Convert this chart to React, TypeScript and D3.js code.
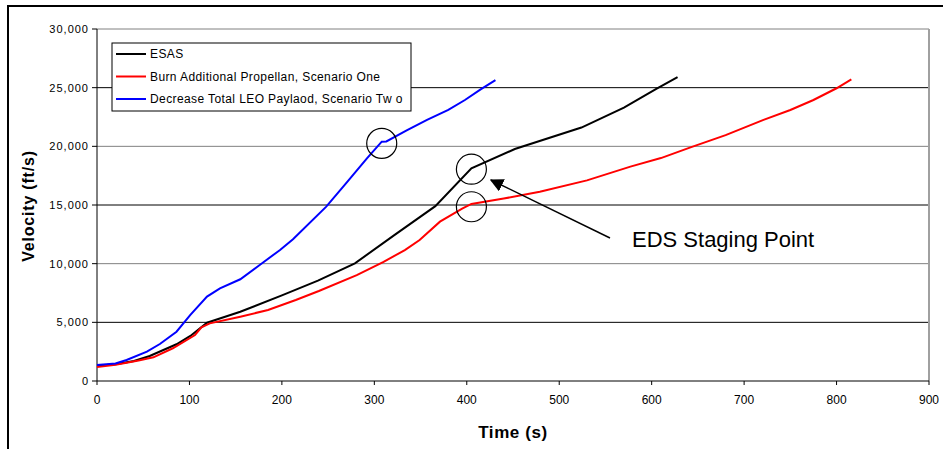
import * as d3 from "d3";

// time (s) / velocity (ft/s)
const esasT = [0, 20, 40, 57, 86, 101, 119, 155, 200, 239, 279, 322, 366, 405, 452, 524, 570, 605, 628];
const esasV = [1300, 1420, 1700, 2130, 3130, 3840, 4970, 5900, 7300, 8550, 10030, 12450, 14900, 18120, 19770, 21600, 23300, 24900, 25900];

const burnT = [0, 20, 32, 45, 61, 82, 106, 113, 122, 155, 185, 215, 240, 281, 310, 333, 349, 371, 395, 405, 440, 479, 530, 577, 610, 642, 680, 721, 750, 775, 800, 816];
const burnV = [1200, 1380, 1560, 1750, 2020, 2790, 3920, 4570, 4910, 5480, 6050, 6900, 7670, 9030, 10150, 11160, 12020, 13580, 14700, 15090, 15550, 16130, 17100, 18270, 19000, 19910, 20950, 22250, 23100, 23950, 24950, 25700];

const leoT = [0, 20, 32, 54, 68, 86, 101, 119, 133, 155, 176, 198, 212, 248, 270, 292, 308, 313, 335, 357, 380, 398, 415, 431];
const leoV = [1360, 1500, 1790, 2500, 3150, 4200, 5630, 7190, 7900, 8670, 9890, 11170, 12080, 14860, 16900, 18980, 20400, 20420, 21350, 22250, 23100, 23950, 24850, 25650];

const series = [
  { name: "ESAS", color: "#000000", t: esasT, v: esasV },
  { name: "Burn Additional Propellan, Scenario One", color: "#ff0000", t: burnT, v: burnV },
  { name: "Decrease Total LEO Paylaod, Scenario Tw o", color: "#0000ff", t: leoT, v: leoV },
];

const xTicks = [0, 100, 200, 300, 400, 500, 600, 700, 800, 900];
const yTicks = [0, 5000, 10000, 15000, 20000, 25000, 30000];

// staging points (t, v) marked with circles
const stagingT = [308, 405, 405];
const stagingV = [20250, 18050, 14850];

const font = "Arial, 'Liberation Sans', sans-serif";

export default function App() {
  const W = 943;
  const H = 449;
  const left = 97, right = 929, top = 29, bottom = 381;

  const x = d3.scaleLinear().domain([0, 900]).range([left, right]);
  const y = d3.scaleLinear().domain([0, 30000]).range([bottom, top]);

  const line = (t: number[], v: number[]) =>
    d3.line<number>().x((d) => x(d)).y((_, i) => y(v[i]))(t) || "";

  const gridColor = (v: number) => (v % 10000 === 0 ? "#808080" : "#000000");

  return (
    <svg
      width={W}
      height={H}
      style={{ position: "absolute", left: 0, top: 0, background: "#fff" }}
      fontFamily={font}
    >
      <defs>
        <marker id="ah" viewBox="0 0 10 10" refX="9" refY="5" markerWidth="9" markerHeight="9" orient="auto">
          <path d="M0,0 L10,5 L0,10 z" fill="#000" />
        </marker>
      </defs>

      {/* outer chart border */}
      <rect x={8} y={6} width={W} height={H} fill="none" stroke="#000" strokeWidth={2} />

      {/* gridlines */}
      {yTicks.filter((v) => v > 0).map((v) => (
        <line key={v} x1={left} x2={right} y1={y(v)} y2={y(v)} stroke={gridColor(v)} strokeWidth={1} />
      ))}
      <line x1={right} x2={right} y1={top} y2={bottom} stroke="#a0a0a0" strokeWidth={2} />

      {/* axes */}
      <line x1={left} x2={left} y1={top} y2={bottom} stroke="#000" />
      <line x1={left} x2={right} y1={bottom} y2={bottom} stroke="#000" />
      {yTicks.map((v) => (
        <g key={v}>
          <line x1={left - 5} x2={left} y1={y(v)} y2={y(v)} stroke="#000" />
          <text x={89} y={y(v) + 4} textAnchor="end" fontSize={11} letterSpacing={1} fill="#000">
            {d3.format(",")(v)}
          </text>
        </g>
      ))}
      {xTicks.map((t) => (
        <g key={t}>
          <line x1={x(t)} x2={x(t)} y1={bottom} y2={bottom + 4} stroke="#000" />
          <text x={x(t)} y={404} textAnchor="middle" fontSize={12} fill="#000">
            {t}
          </text>
        </g>
      ))}

      <text x={513} y={438} textAnchor="middle" fontSize={17} fontWeight="bold" letterSpacing={0.6}>
        Time (s)
      </text>
      <text
        transform="translate(34,206) rotate(-90)"
        textAnchor="middle"
        fontSize={16}
        fontWeight="bold"
        letterSpacing={0.8}
      >
        Velocity (ft/s)
      </text>

      {/* series */}
      {series.map((s) => (
        <path key={s.name} d={line(s.t, s.v)} fill="none" stroke={s.color} strokeWidth={2} />
      ))}

      {/* legend */}
      <rect x={112} y={43} width={299} height={68} fill="#fff" stroke="#000" strokeWidth={1} />
      {series.map((s, i) => (
        <g key={s.name}>
          <line x1={116} x2={146} y1={54 + i * 22.5} y2={54 + i * 22.5} stroke={s.color} strokeWidth={2} />
          <text x={150} y={54 + i * 22.5 + 4} fontSize={12} letterSpacing={0.4} fill="#000">
            {s.name}
          </text>
        </g>
      ))}

      {/* staging annotation */}
      {stagingT.map((t, i) => (
        <circle key={i} cx={x(t)} cy={y(stagingV[i])} r={15} fill="none" stroke="#000" strokeWidth={1.2} />
      ))}
      <line x1={610} y1={238} x2={491} y2={180} stroke="#000" strokeWidth={1.5} markerEnd="url(#ah)" />
      <text x={632} y={247} fontSize={22} fill="#000">
        EDS Staging Point
      </text>
    </svg>
  );
}
